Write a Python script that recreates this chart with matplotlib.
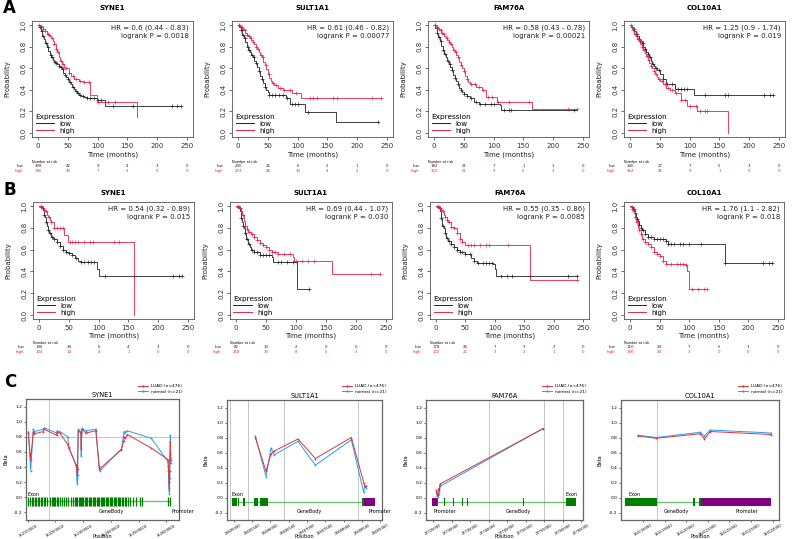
import numpy as np
import matplotlib
matplotlib.use("Agg")
import matplotlib.pyplot as plt
from matplotlib.lines import Line2D
from matplotlib.transforms import blended_transform_factory

plt.rcParams['font.family'] = ['DejaVu Sans']

# ======================= DATA =======================
genes = ["SYNE1", "SULT1A1", "FAM76A", "COL10A1"]
time_ticks = [0, 50, 100, 150, 200, 250]
prob_ticks = [0.0, 0.2, 0.4, 0.6, 0.8, 1.0]
prob_ticklabels = ["0.0", "0.2", "0.4", "0.6", "0.8", "1.0"]
group_names = ["low", "high"]

# ---- Row A ----
a_hr = ["HR = 0.6 (0.44 - 0.83)", "HR = 0.61 (0.46 - 0.82)",
        "HR = 0.58 (0.43 - 0.78)", "HR = 1.25 (0.9 - 1.74)"]
a_p = ["logrank P = 0.0018", "logrank P = 0.00077",
       "logrank P = 0.00021", "logrank P = 0.019"]
a_risk_low = [[308, 42, 9, 4, 3, 0], [230, 26, 6, 2, 1, 0],
              [182, 21, 7, 1, 1, 0], [140, 27, 7, 5, 3, 0]]
a_risk_high = [[196, 30, 7, 2, 0, 0], [274, 46, 10, 4, 2, 0],
               [322, 51, 9, 5, 2, 0], [364, 45, 9, 1, 0, 0]]
a_low_t = [
    [0, 2.5, 5, 7.5, 10, 12.5, 15, 17.5, 20, 22.5, 25, 27.5, 30, 32.5, 35, 37.5, 40, 42.5, 45, 47.5,
     50, 52.5, 55, 57.5, 60, 62.5, 65, 68, 72, 78, 82, 99, 112, 240],
    [0, 2.5, 5, 7.5, 10, 12.5, 15, 17.5, 20, 22.5, 25, 27.5, 30, 32.5, 35, 37.5, 40, 42.5, 45, 47.5,
     50, 52, 80, 88, 112, 165, 235],
    [0, 2.5, 5, 7.5, 10, 12.5, 15, 17.5, 20, 22.5, 25, 27.5, 30, 32.5, 35, 37.5, 40, 42.5, 45, 47.5,
     50, 55, 60, 67, 75, 110, 112, 240],
    [0, 2.5, 5, 7.5, 10, 12.5, 15, 17.5, 20, 22.5, 25, 27.5, 30, 32.5, 35, 37.5, 40, 42.5, 45, 50,
     55, 60, 75, 107, 240],
]
a_low_s = [
    [1, 0.98, 0.94, 0.9, 0.87, 0.83, 0.8, 0.76, 0.72, 0.7, 0.68, 0.66, 0.65, 0.64, 0.62, 0.61, 0.59, 0.56, 0.54, 0.52,
     0.5, 0.47, 0.45, 0.43, 0.41, 0.39, 0.37, 0.35, 0.34, 0.33, 0.32, 0.31, 0.25, 0.25],
    [1, 0.98, 0.95, 0.91, 0.88, 0.84, 0.8, 0.77, 0.75, 0.72, 0.7, 0.67, 0.65, 0.61, 0.57, 0.53, 0.5, 0.46, 0.43, 0.4,
     0.38, 0.35, 0.32, 0.27, 0.19, 0.1, 0.1],
    [1, 0.97, 0.93, 0.89, 0.85, 0.81, 0.77, 0.73, 0.7, 0.67, 0.64, 0.61, 0.58, 0.54, 0.51, 0.48, 0.45, 0.42, 0.4, 0.38,
     0.36, 0.34, 0.32, 0.29, 0.27, 0.26, 0.21, 0.21],
    [1, 0.98, 0.96, 0.94, 0.92, 0.9, 0.87, 0.85, 0.83, 0.8, 0.78, 0.75, 0.73, 0.7, 0.67, 0.64, 0.62, 0.6, 0.58, 0.55,
     0.5, 0.45, 0.41, 0.35, 0.35],
]
a_low_c = [
    [3, 6, 9, 13, 17, 21, 24, 28, 31, 35, 38, 42, 46, 50, 54, 58, 63, 67, 71, 76, 82, 88, 94, 100, 106, 125, 160, 225, 233, 240],
    [2, 5, 8, 12, 16, 19, 23, 27, 31, 35, 40, 45, 52, 57, 62, 68, 75, 83, 90, 95, 100, 118, 235],
    [2, 5, 8, 12, 15, 19, 23, 27, 31, 36, 40, 45, 50, 56, 62, 70, 78, 85, 95, 100, 118, 125, 130, 235],
    [3, 7, 11, 15, 18, 22, 26, 30, 34, 38, 43, 48, 55, 62, 70, 80, 85, 90, 95, 125, 160, 165, 225, 235, 240],
]
a_high_t = [
    [0, 3, 6, 9, 12, 15, 18, 20, 22, 25, 27, 30, 32, 35, 37, 40, 43, 46, 52, 56, 60, 68, 75, 87, 99, 166],
    [0, 2.5, 5, 7.5, 10, 12.5, 15, 17.5, 20, 22.5, 25, 27.5, 30, 32.5, 35, 37.5, 40, 42.5, 45, 47.5,
     50, 52.5, 55, 57.5, 60, 67, 75, 90, 105, 240],
    [0, 2.5, 5, 7.5, 10, 12.5, 15, 17.5, 20, 22.5, 25, 27.5, 30, 32.5, 35, 37.5, 40, 42.5, 45, 47.5,
     50, 52.5, 55, 57.5, 60, 70, 80, 88, 105, 165, 240],
    [0, 2.5, 5, 7.5, 10, 12.5, 15, 17.5, 20, 22.5, 25, 27.5, 30, 32.5, 35, 37.5, 40, 42.5, 45, 47.5,
     50, 55, 60, 67, 75, 85, 95, 112, 165],
]
a_high_s = [
    [1, 0.99, 0.98, 0.96, 0.94, 0.92, 0.91, 0.9, 0.88, 0.85, 0.82, 0.78, 0.75, 0.7, 0.67, 0.64, 0.61, 0.6, 0.56, 0.53,
     0.5, 0.48, 0.47, 0.35, 0.29, 0.15],
    [1, 0.99, 0.98, 0.96, 0.95, 0.93, 0.91, 0.9, 0.88, 0.86, 0.84, 0.82, 0.8, 0.78, 0.75, 0.72, 0.7, 0.66, 0.63, 0.59,
     0.55, 0.51, 0.48, 0.46, 0.44, 0.42, 0.4, 0.37, 0.32, 0.32],
    [1, 0.99, 0.98, 0.96, 0.95, 0.93, 0.92, 0.9, 0.88, 0.86, 0.84, 0.82, 0.8, 0.77, 0.75, 0.72, 0.7, 0.66, 0.63, 0.6,
     0.57, 0.53, 0.5, 0.47, 0.45, 0.43, 0.4, 0.33, 0.29, 0.22, 0.22],
    [1, 0.98, 0.95, 0.92, 0.9, 0.87, 0.85, 0.82, 0.8, 0.77, 0.74, 0.71, 0.68, 0.65, 0.62, 0.6, 0.57, 0.55, 0.52, 0.5,
     0.48, 0.45, 0.42, 0.4, 0.37, 0.31, 0.25, 0.2, 0.0],
]
a_high_c = [
    [2, 5, 9, 12, 16, 19, 23, 27, 31, 34, 38, 42, 47, 52, 58, 64, 70, 78, 85, 100, 118, 130],
    [3, 6, 9, 12, 15, 18, 22, 26, 30, 34, 38, 42, 47, 52, 58, 64, 70, 78, 88, 98, 120, 126, 132, 160, 166, 225, 240],
    [2, 5, 8, 11, 14, 17, 21, 25, 29, 33, 37, 41, 46, 51, 56, 62, 68, 75, 82, 90, 98, 108, 125, 160, 225, 240],
    [2, 5, 8, 11, 14, 17, 20, 24, 28, 32, 36, 40, 44, 48, 53, 58, 63, 70, 78, 85, 92, 100, 110, 118, 125, 130],
]

# ---- Row B ----
b_hr = ["HR = 0.54 (0.32 - 0.89)", "HR = 0.69 (0.44 - 1.07)",
        "HR = 0.55 (0.35 - 0.86)", "HR = 1.76 (1.1 - 2.82)"]
b_p = ["logrank P = 0.015", "logrank P = 0.030",
       "logrank P = 0.0085", "logrank P = 0.018"]
b_risk_low = [[196, 34, 6, 4, 3, 0], [82, 13, 2, 0, 0, 0],
              [178, 26, 7, 3, 2, 0], [110, 24, 7, 5, 3, 0]]
b_risk_high = [[104, 14, 4, 1, 0, 0], [218, 35, 8, 5, 3, 0],
               [122, 22, 3, 2, 1, 0], [190, 24, 3, 0, 0, 0]]
b_low_t = [
    [0, 3, 5, 7, 8, 9, 10, 11, 12, 13, 15, 17, 20, 23, 25, 30, 35, 40, 45, 50, 55, 60, 65, 70, 97, 100, 240],
    [0, 3, 5, 7, 8, 9, 10, 11, 13, 15, 17, 20, 23, 25, 30, 40, 60, 62, 100, 102, 122],
    [0, 3, 5, 7, 8, 9, 10, 11, 13, 15, 17, 20, 25, 30, 35, 40, 50, 60, 65, 70, 97, 100, 102, 240],
    [0, 3, 5, 7, 8, 10, 12, 13, 15, 18, 20, 25, 30, 40, 60, 65, 160, 240],
]
b_low_s = [
    [1, 0.99, 0.98, 0.96, 0.94, 0.92, 0.9, 0.87, 0.85, 0.82, 0.78, 0.75, 0.72, 0.71, 0.7, 0.67, 0.63, 0.6, 0.58, 0.57,
     0.55, 0.52, 0.5, 0.49, 0.42, 0.36, 0.36],
    [1, 0.99, 0.98, 0.95, 0.92, 0.89, 0.85, 0.82, 0.8, 0.75, 0.7, 0.65, 0.62, 0.6, 0.58, 0.55, 0.53, 0.49, 0.49, 0.24, 0.24],
    [1, 0.99, 0.98, 0.95, 0.92, 0.89, 0.85, 0.82, 0.8, 0.75, 0.71, 0.68, 0.65, 0.62, 0.6, 0.58, 0.56, 0.52, 0.5, 0.48,
     0.47, 0.42, 0.36, 0.36],
    [1, 0.99, 0.97, 0.96, 0.94, 0.9, 0.88, 0.86, 0.83, 0.8, 0.78, 0.74, 0.72, 0.7, 0.68, 0.65, 0.48, 0.48],
]
b_low_c = [
    [3, 6, 9, 12, 15, 18, 22, 26, 30, 35, 40, 45, 50, 55, 62, 70, 76, 82, 88, 93, 110, 160, 225, 235, 240],
    [3, 6, 9, 12, 15, 18, 22, 26, 30, 35, 40, 45, 50, 55, 70, 75, 85, 95, 122],
    [3, 6, 9, 12, 15, 18, 22, 26, 30, 35, 40, 45, 50, 58, 65, 72, 80, 85, 90, 95, 110, 120, 130, 160, 225, 240],
    [3, 6, 9, 12, 15, 18, 22, 26, 30, 35, 40, 45, 50, 55, 60, 65, 70, 75, 85, 90, 100, 120, 160, 225, 235, 240],
]
b_high_t = [
    [0, 5, 8, 10, 13, 15, 18, 20, 25, 42, 48, 160],
    [0, 5, 8, 10, 13, 15, 18, 20, 25, 30, 35, 40, 45, 50, 55, 60, 70, 95, 97, 160, 240],
    [0, 5, 8, 10, 13, 15, 18, 20, 25, 30, 35, 40, 45, 50, 160, 240],
    [0, 3, 5, 8, 10, 13, 15, 18, 20, 25, 30, 35, 40, 45, 50, 55, 60, 95, 97, 100, 130],
]
b_high_s = [
    [1, 0.98, 0.96, 0.95, 0.92, 0.9, 0.87, 0.85, 0.8, 0.73, 0.67, 0.0],
    [1, 0.98, 0.95, 0.92, 0.86, 0.82, 0.79, 0.76, 0.74, 0.72, 0.69, 0.66, 0.64, 0.62, 0.6, 0.58, 0.56, 0.53, 0.5, 0.38, 0.38],
    [1, 0.98, 0.96, 0.95, 0.92, 0.9, 0.87, 0.85, 0.81, 0.8, 0.75, 0.7, 0.67, 0.64, 0.32, 0.32],
    [1, 0.97, 0.95, 0.9, 0.85, 0.8, 0.78, 0.74, 0.7, 0.67, 0.65, 0.62, 0.58, 0.56, 0.54, 0.5, 0.47, 0.46, 0.4, 0.24, 0.24],
]
b_high_c = [
    [4, 8, 12, 16, 20, 25, 30, 35, 40, 52, 55, 60, 65, 75, 85, 90, 125, 135],
    [3, 6, 9, 12, 15, 18, 22, 26, 30, 35, 40, 45, 50, 55, 60, 65, 70, 80, 90, 100, 110, 120, 130, 225, 240],
    [3, 6, 9, 12, 15, 18, 22, 26, 30, 35, 40, 45, 55, 60, 65, 75, 85, 90, 122, 240],
    [3, 6, 9, 12, 15, 18, 22, 26, 30, 35, 40, 45, 50, 55, 60, 70, 80, 85, 90, 95, 105, 115, 125, 130],
]

# ---- Row C : methylation (beta values by probe position) ----
series_names = ["LUAD (n=476)", "normal (n=21)"]
beta_ticks = [-0.2, 0.0, 0.2, 0.4, 0.6, 0.8, 1.0, 1.2]

syne1_pos = [152102000, 152110400, 152120000, 152123600, 152156000, 152159600, 152204000, 152206400,
             152216000, 152243600, 152248400, 152274800, 152276000, 152277200, 152278400, 152279600,
             152282000, 152291600, 152292800, 152295200, 152309600, 152345600, 152357600, 152360000,
             152438000, 152446400, 152447600, 152450000, 152459600, 152546000, 152606000, 152607200,
             152608400, 152609600, 152610800, 152612000, 152613200, 152614400, 152615600]
syne1_luad = [0.85, 0.50, 0.86, 0.84, 0.87, 0.90, 0.82, 0.86, 0.85, 0.70, 0.65, 0.43, 0.40, 0.35,
              0.30, 0.38, 0.88, 0.85, 0.64, 0.90, 0.85, 0.88, 0.42, 0.38, 0.63, 0.75, 0.80, 0.78,
              0.83, 0.65, 0.50, 0.42, 0.30, 0.20, 0.12, 0.35, 0.52, 0.73, 0.50]
syne1_normal = [0.87, 0.35, 0.90, 0.87, 0.90, 0.92, 0.85, 0.88, 0.87, 0.80, 0.66, 0.41, 0.33, 0.25,
                0.18, 0.30, 0.90, 0.87, 0.55, 0.91, 0.88, 0.90, 0.38, 0.35, 0.64, 0.85, 0.87, 0.86,
                0.88, 0.78, 0.47, 0.35, 0.20, 0.10, 0.05, 0.25, 0.57, 0.82, 0.45]
syne1_exons = [152102000, 152108000, 152114000, 152120000, 152124800, 152129600, 152135600, 152141600,
               152146400, 152152400, 152157200, 152163200, 152168000, 152180000, 152186000, 152189600,
               152194400, 152199200, 152204000, 152210000, 152216000, 152222000, 152230400, 152236400,
               152246000, 152254400, 152261600, 152268800, 152273600, 152278400, 152283200, 152288000,
               152291600, 152295200, 152300000, 152304800, 152309600, 152314400, 152319200, 152324000,
               152328800, 152333600, 152338400, 152343200, 152348000, 152352800, 152357600, 152362400,
               152367200, 152372000, 152376800, 152381600, 152386400, 152391200, 152396000, 152400800,
               152405600, 152410400, 152415200, 152420000, 152424800, 152429600, 152434400, 152439200,
               152444000, 152450000, 152456000, 152463200, 152470400, 152480000, 152492000, 152504000,
               152513600, 152606000, 152612000]
syne1_body = [152102000, 152612000]
syne1_xticks = [152100000, 152200000, 152300000, 152400000, 152500000, 152600000]
syne1_xlim = [152093600, 152645600]
syne1_vlines = [152177600]

sult_pos = [28605590, 28605881, 28606017, 28606108, 28606753, 28607226, 28608208, 28608544, 28608571, 28608608]
sult_luad = [0.80, 0.35, 0.58, 0.62, 0.78, 0.52, 0.80, 0.20, 0.15, 0.15]
sult_normal = [0.82, 0.28, 0.66, 0.57, 0.75, 0.43, 0.77, 0.07, 0.15, 0.13]
sult_exon_start = [28604954, 28605117, 28605244, 28605544, 28605708, 28607890, 28608490]
sult_exon_end = [28605090, 28605144, 28605299, 28605663, 28605935, 28607908, 28608544]
sult_promoter = [28608544, 28608862]
sult_body = [28604954, 28608544]
sult_xticks = [28605000, 28605500, 28606000, 28606500, 28607000, 28607500, 28608000, 28608500, 28609000]
sult_xlim = [28604817, 28609044]
sult_vlines = [28604908, 28605390, 28606381, 28608380]

fam_pos = [27725900, 27726100, 27726300, 27726500, 27726700, 27726900, 27754700]
fam_luad = [0.10, 0.05, 0.03, 0.12, 0.10, 0.18, 0.92]
fam_normal = [0.08, 0.02, 0.01, 0.05, 0.07, 0.15, 0.92]
fam_exon_start = [27726200, 27728000, 27730430, 27732950, 27734300, 27744830, 27749330, 27755360, 27759680, 27760830]
fam_exon_end = [27726340, 27728140, 27730570, 27733090, 27734440, 27744970, 27749470, 27755500, 27759820, 27763530]
fam_promoter = [27724650, 27726000]
fam_body = [27726000, 27760830]
fam_xticks = [27725000, 27730000, 27735000, 27740000, 27745000, 27750000, 27755000, 27760000, 27765000]
fam_xlim = [27723120, 27765420]
fam_vlines = [27740000, 27755000, 27760000]

col_pos = [116117769, 116118615, 116120645, 116120845, 116121107, 116123921]
col_luad = [0.82, 0.79, 0.85, 0.78, 0.88, 0.84]
col_normal = [0.83, 0.80, 0.87, 0.82, 0.90, 0.86]
col_exon_start = [116117169, 116120307, 116120599]
col_exon_end = [116118646, 116120399, 116120676]
col_promoter = [116120676, 116123921]
col_body = [116118646, 116120676]
col_xticks = [116118000, 116119000, 116120000, 116121000, 116122000, 116123000, 116124000]
col_xlim = [116116985, 116124290]
col_vlines = [116118646]

# ======================= LAYOUT / STYLE =======================
W, H = 794, 539
fig = plt.figure(figsize=(W / 100, H / 100), dpi=100)
RED = '#e8234e'
BLK = '#222222'
KM_FS = 5.0


def px_axes(l, t, r, b):
    return fig.add_axes([l / W, 1 - b / H, (r - l) / W, (b - t) / H])


def fy(y):
    return 1 - y / H


def step_value(t, s, x):
    i = np.searchsorted(np.asarray(t), x, side='right') - 1
    return np.asarray(s)[np.clip(i, 0, len(s) - 1)]


def km_panel(x0, x250, y1, y0, gene, curves, hr, p, risk, title_y, xlab_y, risk_y):
    ppm = (x250 - x0) / 250.0
    ppu = (y0 - y1)
    ax = px_axes(x0 - 10 * ppm, y1 - 0.04 * ppu, x250 + 10 * ppm, y0 + 0.04 * ppu)
    ax.set_xlim(-10, 260)
    ax.set_ylim(-0.04, 1.04)
    handles = []
    for (t, s, c), col, name in zip(curves, [BLK, RED], group_names):
        ax.step(t, s, where='post', color=col, lw=0.6)
        cx = [ci for ci in c if ci <= t[-1]]
        ax.plot(cx, step_value(t, s, cx), '+', color=col, ms=2.6, mew=0.45)
        handles.append(Line2D([], [], color=col, lw=0.7, label=name))
    ax.set_xticks(time_ticks)
    ax.set_yticks(prob_ticks)
    ax.set_yticklabels(prob_ticklabels, rotation=90, va='center')
    ax.tick_params(labelsize=KM_FS, length=2.5, width=0.5, pad=1.5, colors='#333333')
    for sp in ax.spines.values():
        sp.set_color('#555555')
        sp.set_linewidth(0.6)
    ax.text(0.975, 0.965, hr + "\n" + p, transform=ax.transAxes, ha='right', va='top',
            fontsize=KM_FS, color='#222222', linespacing=1.25, multialignment='right')
    leg = ax.legend(handles=handles, title='Expression', loc='lower left', frameon=False,
                    fontsize=KM_FS, title_fontsize=KM_FS + 0.3, handlelength=2.6,
                    labelspacing=0.15, borderaxespad=0.3, borderpad=0.2, handletextpad=0.8)
    leg._legend_box.align = 'left'
    cx_fig = (x0 + x250) / 2 / W
    fig.text(cx_fig, fy(title_y), gene, ha='center', va='center', fontsize=KM_FS, fontweight='bold')
    fig.text(cx_fig, fy(xlab_y), 'Time (months)', ha='center', va='center', fontsize=KM_FS, color='#222222')
    ax.set_ylabel('Probability', fontsize=KM_FS, color='#222222')
    ax.yaxis.set_label_coords((x0 - 28 - (x0 - 10 * ppm)) / (270 * ppm), 0.5)
    tr = blended_transform_factory(ax.transData, fig.transFigure)
    ax.text(-10, fy(risk_y[0]), 'Number at risk', transform=tr, fontsize=2.4, ha='left', va='center')
    for row, col, name, yy in zip(risk, [BLK, RED], group_names, risk_y[1:]):
        ax.text(-25, fy(yy), name, transform=tr, fontsize=2.8, ha='right', va='center', color=col)
        for tx, v in zip(time_ticks, row):
            ax.text(tx, fy(yy), str(v), transform=tr, fontsize=2.8, ha='center', va='center', color=col)
    return ax


a_x0 = [38, 238, 434, 630]
a_x250 = [187, 387, 583, 779]
b_x0 = [39, 236, 436, 630]
b_x250 = [188, 386, 583, 778]

for i, g in enumerate(genes):
    km_panel(a_x0[i], a_x250[i], 25, 133, g,
             [(a_low_t[i], a_low_s[i], a_low_c[i]), (a_high_t[i], a_high_s[i], a_high_c[i])],
             a_hr[i], a_p[i], [a_risk_low[i], a_risk_high[i]],
             title_y=8.5, xlab_y=155, risk_y=(161.5, 166.3, 171.3))
    km_panel(b_x0[i], b_x250[i], 206, 315, g,
             [(b_low_t[i], b_low_s[i], b_low_c[i]), (b_high_t[i], b_high_s[i], b_high_c[i])],
             b_hr[i], b_p[i], [b_risk_low[i], b_risk_high[i]],
             title_y=193, xlab_y=336, risk_y=(342.5, 347.3, 352.3))

# ---------------- Row C ----------------
C_LUAD = '#d8383a'
C_NORM = '#2a9df4'
GREEN = '#008000'
LGREEN = '#4fb04f'
PURPLE = '#800080'


def meth_panel(box, gene, pos, luad, normal, xticks, xlim, vlines, leg_x,
               exon_ranges=None, exon_ticks=None, body=None, promoter=None,
               exon_lbl=None, body_lbl=None, prom_lbl=None, hline=None):
    ax = px_axes(*box)
    ax.set_xlim(*xlim)
    ax.set_ylim(-0.3, 1.3)
    for v in vlines:
        ax.axvline(v, color='#bbbbbb', lw=0.6, zorder=0)
    if hline is not None:
        ax.axhline(hline, color='#bbbbbb', lw=0.6, zorder=0)
    ax.plot(body, [-0.055, -0.055], color=LGREEN, lw=1.0, alpha=0.8, zorder=1)
    if exon_ticks is not None:
        ax.vlines(exon_ticks, -0.11, 0.0, color=GREEN, lw=0.9, zorder=2)
    if exon_ranges is not None:
        ax.broken_barh([(s, e - s) for s, e in zip(*exon_ranges)], (-0.11, 0.11),
                       facecolors=GREEN, zorder=2)
    if promoter is not None:
        ax.broken_barh([(promoter[0], promoter[1] - promoter[0])], (-0.11, 0.11),
                       facecolors=PURPLE, zorder=2)
    ax.plot(pos, luad, '-o', color=C_LUAD, lw=0.7, ms=1.3, mew=0, zorder=4, label=series_names[0])
    ax.plot(pos, normal, '-o', color=C_NORM, lw=0.7, ms=1.3, mew=0, zorder=3, label=series_names[1])
    ax.text(exon_lbl[0], 0.005, 'Exon', fontsize=3.5, ha=exon_lbl[1], va='bottom')
    ax.text(body_lbl, -0.19, 'GeneBody', fontsize=3.5, ha='center', va='center')
    ax.text(prom_lbl, -0.19, 'Promoter', fontsize=3.5, ha='center', va='center')
    ax.set_xticks(xticks)
    ax.set_xticklabels([str(v) for v in xticks], rotation=30, fontsize=2.6)
    ax.set_yticks(beta_ticks)
    ax.set_yticklabels(['%.1f' % v for v in beta_ticks], fontsize=3.2)
    ax.tick_params(length=1.5, width=0.4, pad=1)
    for sp in ax.spines.values():
        sp.set_color('#666666')
        sp.set_linewidth(0.9)
    ax.set_title(gene, fontsize=4.8, pad=1.2)
    ax.set_ylabel('Beta', fontsize=3.6)
    ax.yaxis.set_label_coords(-18 / (box[2] - box[0]), 0.5)
    ax.set_xlabel('Position', fontsize=3.6)
    ax.xaxis.set_label_coords(0.5, (box[3] - 534) / (box[3] - box[1]))
    ax.legend(loc='center left', bbox_to_anchor=(leg_x / W, fy(389)),
              bbox_transform=fig.transFigure, frameon=False, fontsize=3.2,
              handlelength=2.2, handletextpad=0.8, labelspacing=0.35,
              borderpad=0, borderaxespad=0, markerscale=1.3)
    return ax


meth_panel((26, 399, 179, 520), genes[0], syne1_pos, syne1_luad, syne1_normal, syne1_xticks,
           syne1_xlim, syne1_vlines, 138, exon_ticks=syne1_exons, body=syne1_body,
           exon_lbl=(152098000, 'left'), body_lbl=152400800, prom_lbl=152660000, hline=0.8)
meth_panel((227, 400, 382, 520), genes[1], sult_pos, sult_luad, sult_normal, sult_xticks,
           sult_xlim, sult_vlines, 342, exon_ranges=(sult_exon_start, sult_exon_end),
           body=sult_body, promoter=sult_promoter,
           exon_lbl=(28604930, 'left'), body_lbl=28607063, prom_lbl=28608980)
meth_panel((426, 400, 583, 520), genes[2], fam_pos, fam_luad, fam_normal, fam_xticks,
           fam_xlim, fam_vlines, 542, exon_ranges=(fam_exon_start, fam_exon_end),
           body=fam_body, promoter=fam_promoter,
           exon_lbl=(27762270, 'center'), body_lbl=27747960, prom_lbl=27728250)
meth_panel((621, 400, 779, 520), genes[3], col_pos, col_luad, col_normal, col_xticks,
           col_xlim, col_vlines, 738, exon_ranges=(col_exon_start, col_exon_end),
           body=col_body, promoter=col_promoter,
           exon_lbl=(116117323, 'left'), body_lbl=116119553, prom_lbl=116122783)

# panel letters
for lbl, x, y in [("A", 9, 8), ("B", 10, 190), ("C", 10, 382)]:
    fig.text(x / W, fy(y), lbl, fontsize=12, fontweight='bold', ha='center', va='center')

fig.savefig('out.png', dpi=100)
